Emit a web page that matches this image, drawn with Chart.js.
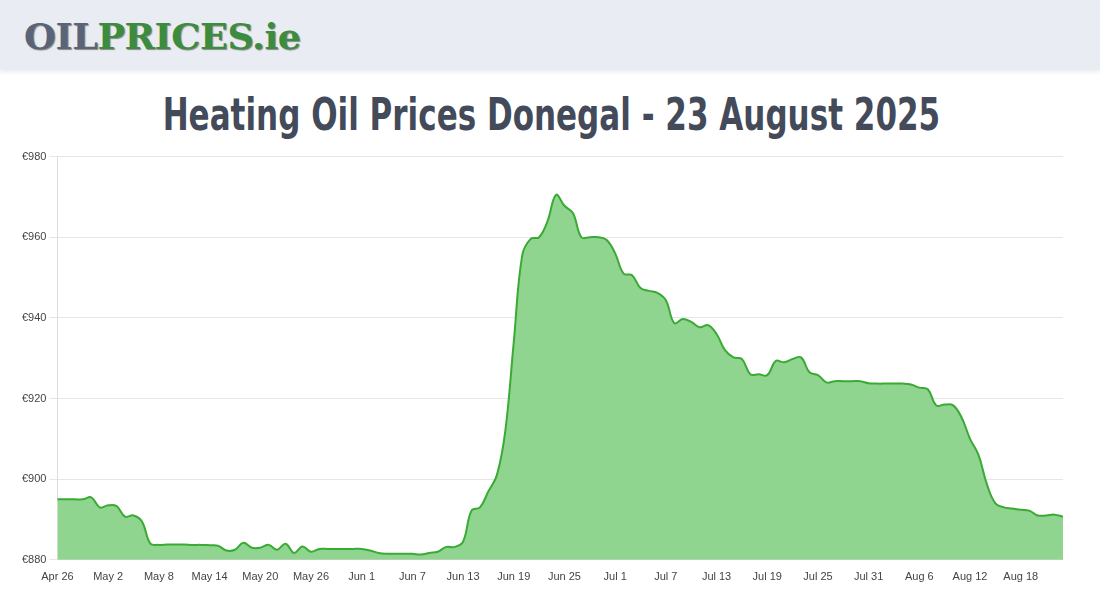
<!DOCTYPE html>
<html><head><meta charset="utf-8">
<script src="https://cdn.jsdelivr.net/npm/chart.js@4"></script>
<style>
body{margin:0;width:1100px;height:600px;background:#fff;font-family:"Liberation Sans",Arial,sans-serif;overflow:hidden}
#hdr{position:absolute;left:0;top:0;width:1100px;height:70px;background:#e9ecf3;box-shadow:0 2px 4px rgba(0,0,0,0.08)}
#logo{position:absolute;left:24px;top:15px;font-family:"DejaVu Serif",serif;font-weight:bold;font-size:36px;letter-spacing:-0.5px;text-shadow:1px 1px 1px #888;transform:scaleX(1.02);transform-origin:left}
#logo .a{color:#5a6478}#logo .b{color:#3b8c3e}
#title{position:absolute;left:0;top:89px;width:1100px;text-align:center}
#title span{display:inline-block;font-family:"DejaVu Sans",sans-serif;font-weight:bold;font-size:44px;color:#434a5a;transform:scaleX(0.705);white-space:nowrap}
#wrap{position:absolute;left:19px;top:147px;width:1044px;height:440px}
</style></head><body>
<div id="hdr"><div id="logo"><span class="a">OIL</span><span class="b">PRICES.ie</span></div></div>
<div id="title"><span>Heating Oil Prices Donegal - 23 August 2025</span></div>
<div id="wrap"><canvas id="c"></canvas></div>
<script>
const startDate = "2025-04-26";
const prices = [895,895,895,895,895.5,893,893.5,893.3,890.7,891,889.5,884,883.7,883.8,883.8,883.8,883.7,883.7,883.6,883.5,882.3,882.5,884.2,883,883,883.7,882.5,884,881.7,883.3,882,882.7,882.7,882.7,882.7,882.7,882.7,882.3,881.7,881.5,881.5,881.5,881.5,881.3,881.7,882,883.2,883.2,884.5,892.2,893,897,901,912,934,955.5,959.6,960,964,970.5,967.8,966,960,960,960,959.3,956,951,950.6,947.4,946.7,946.2,944.4,938.7,939.7,939,937.7,938.2,936,932,930.2,929.8,926,926,925.8,929.3,929,929.8,930.2,926.5,925.8,924,924.3,924.3,924.3,924.3,923.8,923.7,923.7,923.7,923.7,923.5,922.7,922.3,918.3,918.5,918.3,915.3,910,906,898.7,894,893,892.7,892.4,892.2,891,891,891.2,890.7];
const months=["Jan","Feb","Mar","Apr","May","Jun","Jul","Aug","Sep","Oct","Nov","Dec"];
const labels=prices.map((_,i)=>{const d=new Date(startDate+"T12:00:00Z");d.setUTCDate(d.getUTCDate()+i);return months[d.getUTCMonth()]+" "+d.getUTCDate();});
const yTicks=[880,900,920,940,960,980];
new Chart(document.getElementById('c'),{type:'line',
data:{labels,datasets:[{data:prices,borderColor:'#3aaa35',backgroundColor:'#8fd48f',fill:true,tension:0.4,pointRadius:0,borderWidth:2}]},
options:{responsive:true,maintainAspectRatio:false,animation:false,
plugins:{legend:{display:false},tooltip:{enabled:false}},
scales:{
x:{grid:{display:false},ticks:{autoSkip:false,maxRotation:0,color:'#444',font:{size:11},callback:(v,i)=>i%6===0?labels[i]:null}},
y:{min:880,max:980,afterBuildTicks:a=>{a.ticks=yTicks.map(v=>({value:v}));},grid:{color:'#e6e6e6'},border:{display:true,color:'#ddd'},ticks:{color:'#444',font:{size:11},callback:v=>'€'+v}}
}}});
</script></body></html>
